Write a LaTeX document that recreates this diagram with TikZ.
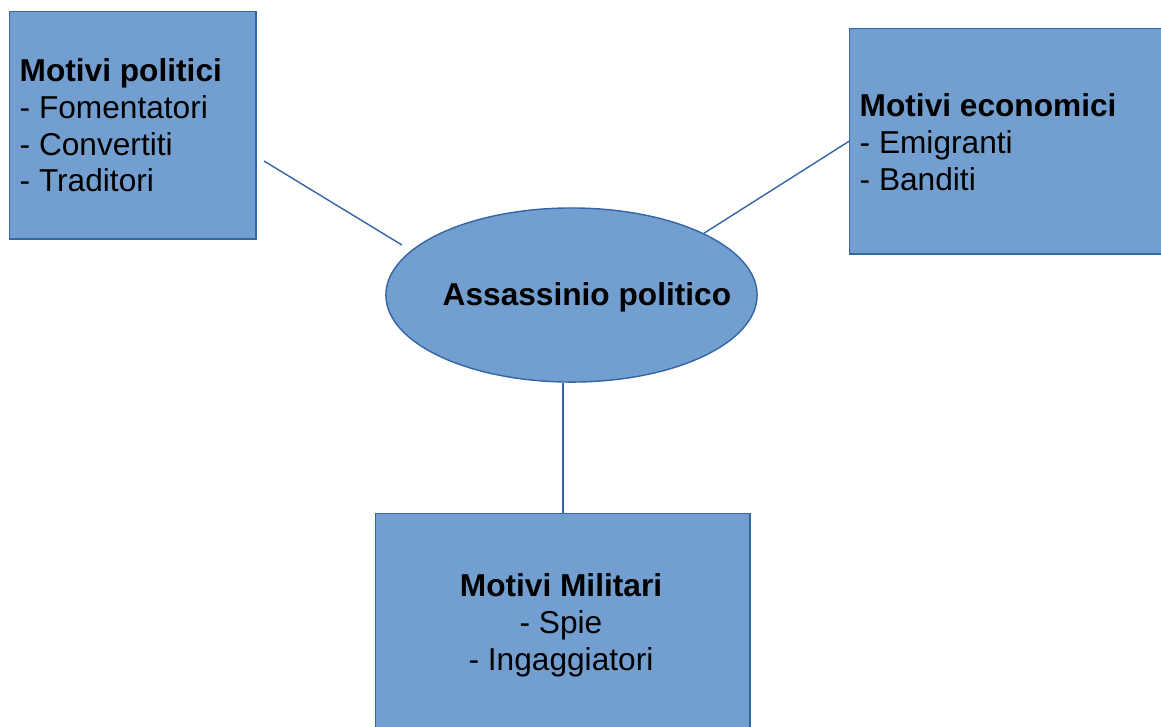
\documentclass[tikz,border=0pt]{standalone}
\usepackage{fontspec}
\setmainfont{Liberation Sans}
\usetikzlibrary{shapes.geometric}
\definecolor{boxfill}{HTML}{729FCF}
\definecolor{boxline}{HTML}{3465A4}

\begin{document}
\begin{tikzpicture}[x=0.01cm,y=-0.01cm]
       \tikzstyle{frame} = [rectangle, draw=boxline, line width=0.4pt, fill=boxfill, inner sep=0pt, anchor=north west];
       \tikzstyle{txt} = [inner sep=0pt, font=\fontsize{9}{10.44}\selectfont, anchor=north west, align=left];
       \tikzstyle{conn} = [draw=boxline, line width=0.4pt];

       \useasboundingbox (0,0) rectangle (1161,726);
       \clip (0,0) rectangle (1161,726);

       \node[frame, minimum width=2.46cm, minimum height=2.27cm] (politici) at (9,11) {};
       \node[frame, minimum width=3.31cm, minimum height=2.25cm] (economici) at (849,28) {};
       \node[frame, minimum width=3.74cm, minimum height=2.27cm] (militari) at (375,513) {};
       \node[ellipse, draw=boxline, line width=0.4pt, fill=boxfill, inner sep=0pt,
             minimum width=3.71cm, minimum height=1.74cm] (assassinio) at (571.5,295) {};

       \node[txt] (politicitxt) at (19,55.3) {\strut\textbf{Motivi politici}\\- Fomentatori\\- Convertiti\\- Traditori};
       \node[txt] (economicitxt) at (859,90.3) {\strut\textbf{Motivi economici}\\- Emigranti\\- Banditi};
       \node[txt, anchor=north, align=center] (militaritxt) at (561,570.3) {\strut\textbf{Motivi Militari}\\- Spie\\- Ingaggiatori};
       \node[txt, anchor=base west, font=\bfseries\fontsize{9}{10.44}\selectfont] (assassiniotxt) at (442,305) {Assassinio politico};

       % connectors
       \coordinate (politicistart) at (264,161);
       \coordinate (politiciend) at (402,245);
       \draw[conn] (politicistart) -- (politiciend);
       \draw[conn] (economici.west) -- (assassinio.25);
       \draw[conn] (militari.north) -- (militari.north |- assassinio.south);
\end{tikzpicture}
\end{document}
